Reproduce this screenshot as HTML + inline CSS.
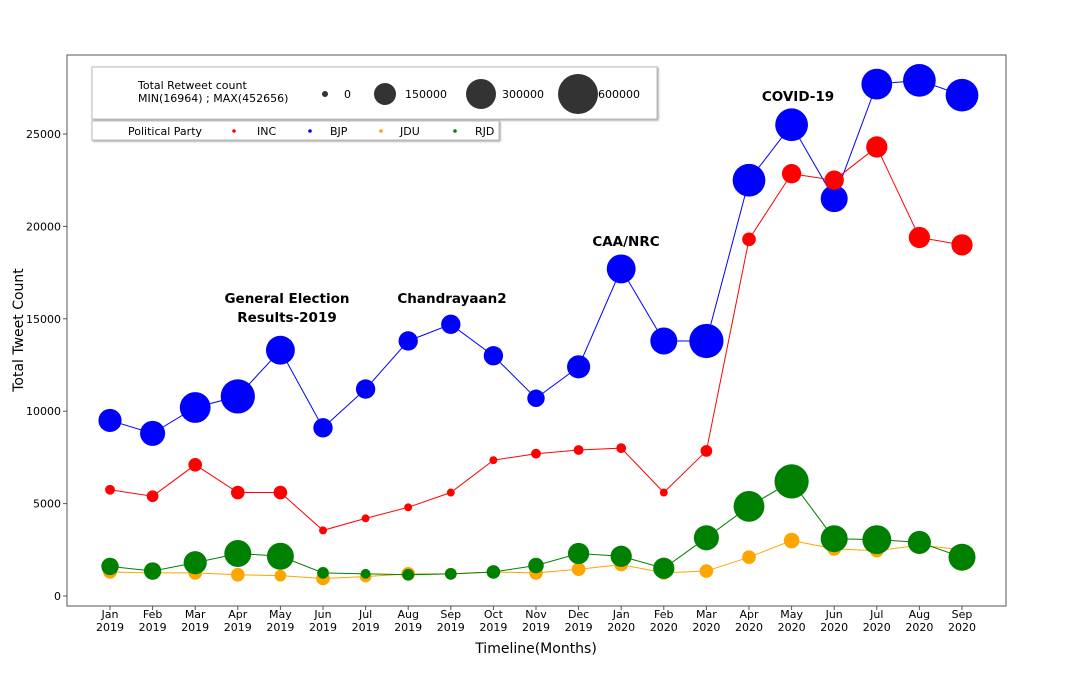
<!DOCTYPE html>
<html><head><meta charset="utf-8"><style>
body{margin:0;background:#fff;font-family:"Liberation Sans","DejaVu Sans",sans-serif}
</style></head><body>
<svg id="chart" width="1089" height="679" viewBox="0 0 1089 679" xmlns="http://www.w3.org/2000/svg" font-family="DejaVu Sans, Liberation Sans, sans-serif">
<rect x="67" y="55" width="939" height="551" fill="#fff" stroke="#555" stroke-width="1"/>
<g id="axes"></g>
<g id="series"></g>
<text x="536" y="653" font-size="14" text-anchor="middle">Timeline(Months)</text>
<text transform="translate(23,330) rotate(-90)" font-size="14" text-anchor="middle">Total Tweet Count</text>
<g font-weight="bold" font-size="13.5" text-anchor="middle">
<text x="287" y="303">General Election</text>
<text x="287" y="322">Results-2019</text>
<text x="452" y="303">Chandrayaan2</text>
<text x="626" y="246">CAA/NRC</text>
<text x="798" y="101">COVID-19</text>
</g>
<g>
<rect x="92" y="67" width="565" height="52" fill="#fff" stroke="#bbb" style="filter:drop-shadow(1px 1px 1px #999)"/>
<text x="138" y="89" font-size="11">Total Retweet count</text>
<text x="138" y="102" font-size="11">MIN(16964) ; MAX(452656)</text>
<circle cx="325" cy="94" r="3" fill="#333"/><text x="344" y="98" font-size="11">0</text>
<circle cx="385" cy="94" r="11" fill="#333"/><text x="405" y="98" font-size="11">150000</text>
<circle cx="481" cy="94" r="15" fill="#333"/><text x="502" y="98" font-size="11">300000</text>
<circle cx="578" cy="94" r="20" fill="#333"/><text x="598" y="98" font-size="11">600000</text>
</g>
<g>
<rect x="92" y="121" width="407" height="19" fill="#fff" stroke="#bbb" style="filter:drop-shadow(1px 1px 1px #999)"/>
<text x="128" y="135" font-size="11">Political Party</text>
<circle cx="234" cy="131" r="1.8" fill="red"/><text x="257" y="135" font-size="11">INC</text>
<circle cx="310" cy="131" r="1.8" fill="blue"/><text x="330" y="135" font-size="11">BJP</text>
<circle cx="381" cy="131" r="1.8" fill="orange"/><text x="400" y="135" font-size="11">JDU</text>
<circle cx="455" cy="131" r="1.8" fill="green"/><text x="475" y="135" font-size="11">RJD</text>
</g>
</svg>
<script>
const months=["Jan","Feb","Mar","Apr","May","Jun","Jul","Aug","Sep","Oct","Nov","Dec","Jan","Feb","Mar","Apr","May","Jun","Jul","Aug","Sep"];
const years=["2019","2019","2019","2019","2019","2019","2019","2019","2019","2019","2019","2019","2020","2020","2020","2020","2020","2020","2020","2020","2020"];
const yTicks=[0,5000,10000,15000,20000,25000];
const bjpTweets=[9500,8800,10200,10800,13300,9100,11200,13800,14700,13000,10700,12400,17700,13800,13800,22500,25500,21500,27700,27900,27100];
const bjpRetweets=[167000,207000,349000,452000,297000,101000,101000,101000,101000,101000,74000,167000,297000,250000,452000,405000,405000,250000,349000,405000,405000];
const incTweets=[5750,5400,7100,5600,5600,3550,4200,4800,5600,7350,7700,7900,8000,5600,7850,19300,22850,22500,24300,19400,19000];
const incRetweets=[8300,18600,33000,33000,33000,2100,2100,2100,2100,2100,8300,8300,8300,2100,18600,33000,101000,101000,132000,132000,132000];
const jduTweets=[1300,1250,1250,1150,1100,950,1050,1200,1200,1300,1250,1450,1700,1250,1350,2100,3000,2550,2450,2750,2500];
const jduRetweets=[33000,33000,33000,33000,18600,33000,18600,33000,18600,18600,33000,33000,33000,33000,33000,33000,52000,33000,33000,33000,0];
const rjdTweets=[1600,1350,1800,2300,2150,1250,1200,1150,1200,1300,1650,2300,2150,1500,3150,4850,6200,3100,3050,2900,2100];
const rjdRetweets=[74000,74000,167000,250000,250000,18600,8300,18600,18600,33000,52000,132000,132000,132000,207000,349000,452000,250000,297000,167000,250000];
const NS="http://www.w3.org/2000/svg";
const xS=i=>110+i*(852/20);
const yS=v=>596-v*(462/25000);
const rS=v=>3+0.021*Math.sqrt(v);
function mk(tag,attrs,parent){const e=document.createElementNS(NS,tag);for(const k in attrs)e.setAttribute(k,attrs[k]);parent.appendChild(e);return e;}
const ax=document.getElementById('axes');
yTicks.forEach(t=>{
  mk('line',{x1:63,x2:67,y1:yS(t),y2:yS(t),stroke:'#555'},ax);
  const tx=mk('text',{x:61,y:yS(t)+4,'font-size':11,'text-anchor':'end'},ax);tx.textContent=t;
  
  
});
months.forEach((m,i)=>{
  mk('line',{x1:xS(i),x2:xS(i),y1:606,y2:610,stroke:'#555'},ax);
  const t1=mk('text',{x:xS(i),y:618,'font-size':11,'text-anchor':'middle'},ax);t1.textContent=m;
  
  
  const t2=mk('text',{x:xS(i),y:631,'font-size':11,'text-anchor':'middle'},ax);t2.textContent=years[i];
  
  
});
const sg=document.getElementById('series');
function series(name,tw,rt,col){
  const g=mk('g',{},sg);
  
  
  const pl=mk('polyline',{points:tw.map((v,i)=>xS(i)+','+yS(v)).join(' '),fill:'none',stroke:col,'stroke-width':1},g);
  
  
  tw.forEach((v,i)=>{
    const c=mk('circle',{cx:xS(i),cy:yS(v),r:rS(rt[i]),fill:col},g);
    
    
  });
}
series('bjp',bjpTweets,bjpRetweets,'blue');
series('inc',incTweets,incRetweets,'red');
series('jdu',jduTweets,jduRetweets,'orange');
series('rjd',rjdTweets,rjdRetweets,'green');
</script>
</body></html>
